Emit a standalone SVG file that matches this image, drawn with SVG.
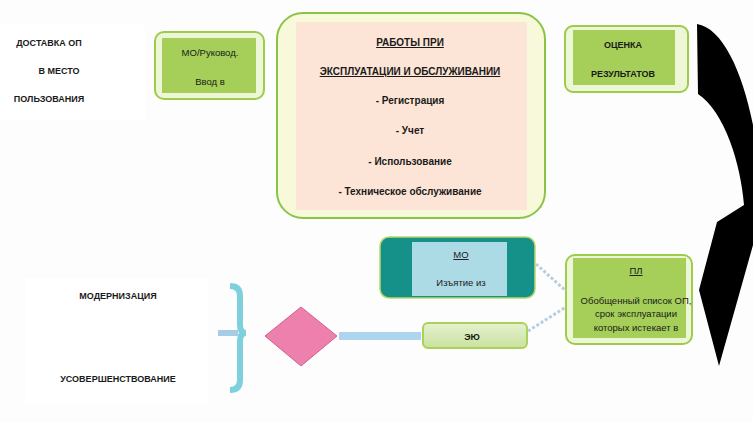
<svg xmlns="http://www.w3.org/2000/svg" width="753" height="422" viewBox="0 0 753 422">
<defs>
<style>
text{font-family:"Liberation Sans","DejaVu Sans",sans-serif;fill:#1a1a1a;text-anchor:middle}
.b{font-weight:bold;font-size:9px}
.bb{font-weight:bold;font-size:10px}
.r{font-size:9.5px}
.g-out{fill:#eef6d8;stroke:#9ccc4a;stroke-width:2}
.g-in{fill:#a5cf58}
.conn{fill:none;stroke:#b6cfe0;stroke-width:3;stroke-dasharray:3 2}
</style>
<linearGradient id="eg" x1="0" y1="0" x2="0" y2="1">
<stop offset="0" stop-color="#e6f1cf"/><stop offset="1" stop-color="#c9e29e"/>
</linearGradient>
</defs>
<rect width="753" height="422" fill="#fdfdfd"/>

<g id="delivery">
<rect x="0" y="25" width="145" height="95" fill="#ffffff"/>
<text class="b" x="49" y="46">ДОСТАВКА ОП</text>
<text class="b" x="59" y="74">В МЕСТО</text>
<text class="b" x="49" y="102">ПОЛЬЗОВАНИЯ</text>
</g>

<g id="mo-rukovod">
<rect class="g-out" x="155" y="32" width="109" height="67" rx="9"/>
<rect class="g-in" x="162" y="38" width="94" height="55"/>
<text class="r" x="210" y="56">МО/Руковод.</text>
<text class="r" x="210" y="85">Ввод в</text>
</g>

<g id="works">
<rect x="277" y="13" width="268" height="205" rx="26" fill="#f8f9da" stroke="#88c545" stroke-width="2"/>
<rect x="296" y="22" width="231" height="188" fill="#fce5d6"/>
<text class="bb" x="410" y="46" text-decoration="underline">РАБОТЫ ПРИ</text>
<text class="bb" x="410" y="75" text-decoration="underline">ЭКСПЛУАТАЦИИ И ОБСЛУЖИВАНИИ</text>
<text class="bb" x="410" y="104">- Регистрация</text>
<text class="bb" x="410" y="134">- Учет</text>
<text class="bb" x="410" y="165">- Использование</text>
<text class="bb" x="410" y="195">- Техническое обслуживание</text>
</g>

<g id="otsenka">
<rect class="g-out" x="565" y="26" width="123" height="66" rx="8"/>
<rect class="g-in" x="573" y="30" width="102" height="55"/>
<text class="b" x="623" y="48">ОЦЕНКА</text>
<text class="b" x="623" y="77">РЕЗУЛЬТАТОВ</text>
</g>

<g id="cycle-arrow">
<path d="M697,24 C722,28 742,70 753,125 L753,245 L719,366 L699,290 L717,222 L744,205 C741,165 725,112 698,94 Z" fill="#000"/>
</g>

<g id="mo-izyatie">
<rect x="380" y="237" width="155" height="61" rx="9" fill="#16918a" stroke="#b9d86a" stroke-width="1.5"/>
<rect x="412" y="242" width="95" height="54" fill="#acdbe6"/>
<text class="r" x="461" y="258" text-decoration="underline">МО</text>
<text class="r" x="461" y="286">Изъятие из</text>
</g>

<g id="pl">
<rect class="g-out" x="566" y="255" width="126" height="89" rx="9"/>
<rect class="g-in" x="573" y="258" width="113" height="80"/>
<text class="r" x="636" y="274" text-decoration="underline">ПЛ</text>
<text class="r" x="636" y="304">Обобщенный список ОП,</text>
<text class="r" x="636" y="317">срок эксплуатации</text>
<text class="r" x="636" y="331">которых истекает в</text>
</g>

<g id="eyu">
<rect x="423" y="323" width="104" height="25" rx="5" fill="url(#eg)" stroke="#a8d25a" stroke-width="2"/>
<text class="b" x="472" y="340">ЭЮ</text>
</g>

<g id="decision">
<polygon points="265,336 301,307 337,336 301,366" fill="#ee80ae" stroke="#d06090" stroke-width="1"/>
</g>

<g id="modernization">
<rect x="25" y="278" width="183" height="127" fill="#ffffff"/>
<text class="b" x="118" y="299">МОДЕРНИЗАЦИЯ</text>
<text class="b" x="118" y="382">УСОВЕРШЕНСТВОВАНИЕ</text>
</g>

<g id="connectors">
<path d="M230,286 Q240,286 240,296 L240,325 Q240,333 246,333 Q240,333 240,341 L240,380 Q240,390 230,390" fill="none" stroke="#7ed0dc" stroke-width="6"/>
<line x1="218" y1="333" x2="238" y2="333" stroke="#a6cce6" stroke-width="6"/>
<line x1="339" y1="336" x2="421" y2="336" stroke="#aed5ee" stroke-width="8"/>
<line class="conn" x1="536" y1="264" x2="566" y2="291"/>
<line class="conn" x1="528" y1="331" x2="566" y2="307"/>
</g>
</svg>
